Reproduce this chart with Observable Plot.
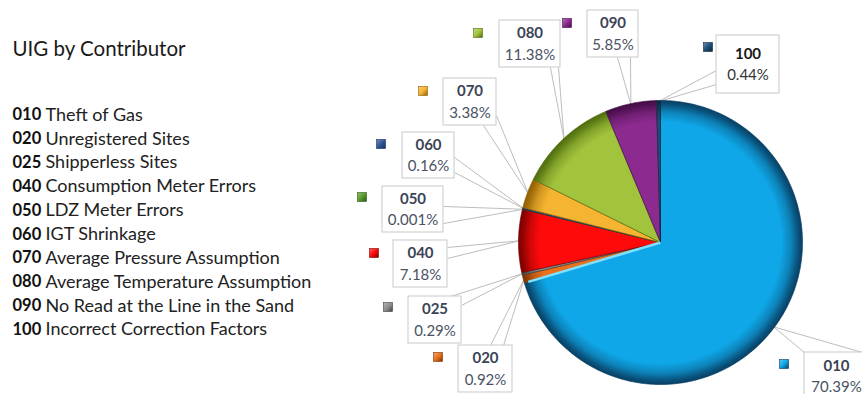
<!DOCTYPE html>
<html><head><meta charset="utf-8">
<script src="https://cdn.jsdelivr.net/npm/d3@7"></script>
<script src="https://cdn.jsdelivr.net/npm/@observablehq/plot@0.6"></script>
<style>body{margin:0;background:#fff;}</style>
</head><body><div id="chart"></div>
<script>
// ---- data ----
const title = "UIG by Contributor";
const codes = ["010","020","025","040","050","060","070","080","090","100"];
const names = ["Theft of Gas","Unregistered Sites","Shipperless Sites","Consumption Meter Errors","LDZ Meter Errors","IGT Shrinkage","Average Pressure Assumption","Average Temperature Assumption","No Read at the Line in the Sand","Incorrect Correction Factors"];
const shares = [70.39,0.92,0.29,7.18,0.001,0.16,3.38,11.38,5.85,0.44];
const pctLabels = ["70.39%","0.92%","0.29%","7.18%","0.001%","0.16%","3.38%","11.38%","5.85%","0.44%"];

// ---- styles ----
const colors = ["#0fa7e8","#e8711c","#8f8f8f","#ff0a0a","#5a9b2e","#2f5597","#f5b431","#a2c43c","#8c2a8f","#1f4e79"];
const rims   = ["#083f63","#7a3304","#404040","#7a0000","#2d5a14","#15305e","#8f5e00","#4f6c0e","#420c45","#0c2640"];

// ---- layout (pixel frame) ----
const W = 862, H = 394;
const cx = 660, cy = 242, R = 142;
// label box: [x0, y0, w, h], marker centre [mx, my], leader attach points
const boxes = [
  {b:[804,352,64,48], m:[784,364], at:[[804,352],[862,352]]},
  {b:[458,345,54,47], m:[438,357], at:[[490,345],[503,345]]},
  {b:[408,296,53,47], m:[388,307], at:[[450,296],[461,305]]},
  {b:[393,240,54,47], m:[374,253], at:[[447,247],[447,258]]},
  {b:[382,186,61,46], m:[362,197], at:[[443,206],[443,223]]},
  {b:[402,132,52,46], m:[381,144], at:[[454,157],[454,172]]},
  {b:[443,78,53,47],  m:[423,91],  at:[[496,115],[483,125]]},
  {b:[499,20,61,47],  m:[478,33],  at:[[550,67],[558,67]]},
  {b:[587,10,51,47],  m:[567,23],  at:[[617,57],[630,57]]},
  {b:[716,35,63,58],  m:[708,47],  at:[[716,70],[716,84]]}
];
const legendX = 12, descX = 45, legendY0 = 114.5, legendStep = 23.85;

// ---- derived pie geometry ----
const total = d3.sum(shares);
const angle = d3.scaleLinear().domain([0, total]).range([0, 2 * Math.PI]);
const cum = Array.from(d3.cumsum(shares));
const slices = shares.map((v, i) => ({i, code: codes[i], a0: angle(cum[i] - v), a1: angle(cum[i])}));
const pt = (a, r = R) => [cx + r * Math.sin(a), cy - r * Math.cos(a)];
const slicePts = s => {
  const n = Math.max(2, Math.ceil((s.a1 - s.a0) / 0.008));
  const arr = [{x: cx, y: cy}];
  for (let k = 0; k <= n; k++) {
    const [x, y] = pt(s.a0 + (s.a1 - s.a0) * k / n);
    arr.push({x, y});
  }
  arr.push({x: cx, y: cy});
  return arr;
};
const anchors = slices.map(s => pt((s.a0 + s.a1) / 2, R - 1));
const links = boxes.flatMap((b, i) => b.at.map(p => ({x1: anchors[i][0], y1: anchors[i][1], x2: p[0], y2: p[1]})));
const labelRows = codes.map((c, i) => ({
  code: c, pct: pctLabels[i], i,
  x0: boxes[i].b[0], y0: boxes[i].b[1], x1: boxes[i].b[0] + boxes[i].b[2], y1: boxes[i].b[1] + boxes[i].b[3],
  tx: boxes[i].b[0] + boxes[i].b[2] / 2, ty: boxes[i].b[1] + boxes[i].b[3] / 2,
  mx: boxes[i].m[0], my: boxes[i].m[1]
}));
const legendRows = codes.map((c, i) => ({code: c, name: names[i], y: legendY0 + legendStep * i}));

const font = "Lato, 'Open Sans', sans-serif";
const chart = Plot.plot({
  width: W, height: H, margin: 0,
  x: {domain: [0, W], range: [0, W], axis: null},
  y: {domain: [0, H], range: [0, H], axis: null},
  style: {fontFamily: font, background: "#fff", overflow: "visible"},
  marks: [
    Plot.text([title], {x: legendX, y: 49, text: d => d, textAnchor: "start", fontSize: 20.5, fill: "#1a1a1a"}),
    Plot.text(legendRows, {x: legendX, y: "y", text: "code", textAnchor: "start", fontSize: 16.5, fontWeight: "bold", fill: "#111"}),
    Plot.text(legendRows, {x: descX, y: "y", text: "name", textAnchor: "start", fontSize: 18, fill: "#222"}),
    Plot.link(links, {x1: "x1", y1: "y1", x2: "x2", y2: "y2", stroke: "#bdbdbd", strokeWidth: 1}),
    ...slices.map(s => Plot.line(slicePts(s), {x: "x", y: "y", fill: `url(#pieg${s.i})`, stroke: rims[s.i], strokeWidth: 0.7, strokeLinejoin: "round"})),
    Plot.link([slices[0]], {x1: cx, y1: cy, x2: d => pt(d.a1, R - 4)[0], y2: d => pt(d.a1, R - 4)[1], stroke: "#7fe0ff", strokeWidth: 2.5}),
    Plot.rect(labelRows, {x1: "x0", x2: "x1", y1: "y0", y2: "y1", fill: "#fff", stroke: "#c9c9c9", strokeWidth: 1}),
    Plot.text(labelRows, {x: "tx", y: d => d.ty - 10.5, text: "code", fontSize: 15, fontWeight: "bold", fill: d => d.code === "100" ? "#1a1a1a" : "#3b4456"}),
    Plot.text(labelRows, {x: "tx", y: d => d.ty + 11, text: "pct", fontSize: 15, fill: d => d.code === "100" ? "#333" : "#4a5264"}),
    Plot.rect(labelRows, {x1: d => d.mx - 4.5, x2: d => d.mx + 4.5, y1: d => d.my - 4.5, y2: d => d.my + 4.5, fill: d => `url(#mk${d.i})`, stroke: d => rims[d.i], strokeWidth: 0.6})
  ]
});

// gradients for 3D-ish shading
const ns = "http://www.w3.org/2000/svg";
const defs = document.createElementNS(ns, "defs");
const sx = chart.scale("x"), sy = chart.scale("y");
colors.forEach((c, i) => {
  const g = document.createElementNS(ns, "radialGradient");
  g.setAttribute("id", `pieg${i}`);
  g.setAttribute("gradientUnits", "userSpaceOnUse");
  g.setAttribute("cx", sx.apply(cx)); g.setAttribute("cy", sy.apply(cy)); g.setAttribute("r", R);
  [[0, c], [0.85, c], [0.92, d3.interpolateRgb(c, rims[i])(0.35)], [0.97, d3.interpolateRgb(c, rims[i])(0.8)], [1, rims[i]]].forEach(([o, col]) => {
    const st = document.createElementNS(ns, "stop");
    st.setAttribute("offset", o); st.setAttribute("stop-color", col);
    g.appendChild(st);
  });
  defs.appendChild(g);
  const m = document.createElementNS(ns, "linearGradient");
  m.setAttribute("id", `mk${i}`);
  m.setAttribute("x1", 0); m.setAttribute("y1", 0); m.setAttribute("x2", 1); m.setAttribute("y2", 1);
  [[0, d3.interpolateRgb(c, "#fff")(0.35)], [0.5, c], [1, rims[i]]].forEach(([o, col]) => {
    const st = document.createElementNS(ns, "stop");
    st.setAttribute("offset", o); st.setAttribute("stop-color", col);
    m.appendChild(st);
  });
  defs.appendChild(m);
});
chart.insertBefore(defs, chart.firstChild);
document.getElementById("chart").appendChild(chart);
</script>
</body></html>
